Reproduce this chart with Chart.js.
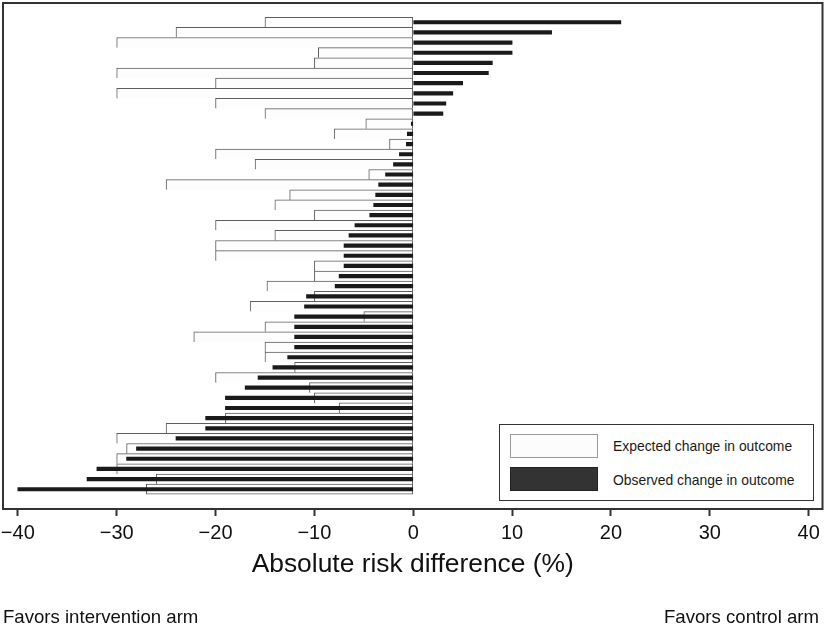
<!DOCTYPE html>
<html>
<head>
<meta charset="utf-8">
<script src="https://cdn.jsdelivr.net/npm/chart.js@4"></script>
<style>
html,body{margin:0;padding:0;background:#fff;}
#wrap{position:relative;width:825px;height:624px;overflow:hidden;font-family:"Liberation Sans",Arial,Helvetica,sans-serif;color:#111;}
#c{position:absolute;left:0;top:0;}
.note{position:absolute;font-size:18.6px;line-height:18.6px;white-space:nowrap;color:#111;}
#legend{position:absolute;left:499px;top:424px;width:313px;height:75px;border:1.5px solid #333;background:#fff;}
.sw{position:absolute;left:510px;width:86px;height:22px;}
.lt{position:absolute;left:613px;font-size:13.9px;line-height:13.9px;white-space:nowrap;color:#1a1a1a;}
</style>
</head>
<body>
<div id="wrap">
<canvas id="c" width="825" height="624"></canvas>
<div id="legend"></div>
<div class="sw" style="top:434px;background:#fcfcfc;border:1px solid #9a9a9a;"></div>
<div class="sw" style="top:467px;background:#333;border:1px solid #222;"></div>
<div class="lt" style="top:440px;">Expected change in outcome</div>
<div class="lt" style="top:473.5px;">Observed change in outcome</div>
<div class="note" style="left:3px;top:607.8px;">Favors intervention arm</div>
<div class="note" style="right:6px;top:607.8px;">Favors control arm</div>
</div>
<script>
// Trials (rows, top to bottom)
const trials = Array.from({length: 47}, (_, i) => 'Trial ' + (i + 1));
// Expected change in outcome (absolute risk difference, %)
const expected = [-15,-24,-30,-9.6,-10,-30,-20,-30,-20,-15,-4.8,-8,-2.4,-20,-16,-4.5,-25,-12.5,-14,-10,-20,-14,-20,-20,-10,-10,-14.8,-10,-16.5,-5,-15,-22.2,-15,-15,-12,-20,-10.5,-10,-7.5,-19,-25,-30,-29,-30,-30,-26,-27];
// Observed change in outcome (absolute risk difference, %)
const observed = [21,14,10,10,8,7.6,5,4,3.3,3,-0.2,-0.6,-0.7,-1.4,-2,-2.8,-3.5,-3.8,-4,-4.4,-5.9,-6.5,-7,-7,-7,-7.5,-7.9,-10.8,-11,-12,-12,-12,-12,-12.7,-14.2,-15.7,-17,-19,-19,-21,-21,-24,-28,-29,-32,-33,-40];
// X axis ticks
const tickValues = [-40,-30,-20,-10,0,10,20,30,40];
const tickLabels = ['\u221240','\u221230','\u221220','\u221210','0','10','20','30','40'];
const axisTitle = 'Absolute risk difference (%)';

const lastIdx = expected.length - 1;

const framePlugin = {
  id: 'frame',
  afterDatasetsDraw(chart) {
    const {ctx, chartArea: a} = chart;
    ctx.save();
    ctx.strokeStyle = '#333';
    ctx.lineWidth = 2;
    ctx.strokeRect(a.left, a.top, a.right - a.left, a.bottom - a.top);
    ctx.restore();
  }
};

new Chart(document.getElementById('c'), {
  type: 'bar',
  data: {
    labels: trials,
    datasets: [
      {
        label: 'Observed change in outcome',
        data: observed.map((v, i) => ({x: v, y: i})),
        backgroundColor: '#1a1a1a',
        borderWidth: 0,
        barThickness: 3.5,
        grouped: false,
        order: 0
      },
      {
        label: 'Expected change in outcome',
        data: expected.map((v, i) => ({x: v, y: i})),
        backgroundColor: '#fdfdfd',
        borderColor: '#5e5e5e',
        borderWidth: (c) => ({top: 1, left: 1, right: 1, bottom: c.dataIndex === lastIdx ? 1 : 0}),
        borderSkipped: false,
        barPercentage: 1,
        categoryPercentage: 1,
        grouped: false,
        order: 1
      }
    ]
  },
  options: {
    indexAxis: 'y',
    responsive: false,
    animation: false,
    layout: {padding: {left: 3, right: 2.5, top: 3, bottom: 0}},
    plugins: {legend: {display: false}, tooltip: {enabled: false}},
    scales: {
      y: {
        type: 'linear',
        reverse: true,
        offset: false,
        min: -1.9,
        max: 47.95,
        display: false
      },
      x: {
        type: 'linear',
        min: -41.5,
        max: 41.4,
        afterBuildTicks: (a) => { a.ticks = tickValues.map(v => ({value: v})); },
        afterFit: (a) => { a.height = 115; a.paddingLeft = 0; a.paddingRight = 0; },
        border: {display: false},
        grid: {drawOnChartArea: false, drawTicks: true, tickLength: 7, tickColor: '#333', tickWidth: 2},
        ticks: {
          padding: 5,
          maxRotation: 0,
          autoSkip: false,
          color: '#111',
          font: {family: '"Liberation Sans", Arial, sans-serif', size: 20},
          callback: (v, i) => tickLabels[i]
        },
        title: {
          display: true,
          text: axisTitle,
          color: '#111',
          font: {family: '"Liberation Sans", Arial, sans-serif', size: 26.4},
          padding: {top: 0, bottom: 43}
        }
      }
    }
  },
  plugins: [framePlugin]
});
</script>
</body>
</html>
